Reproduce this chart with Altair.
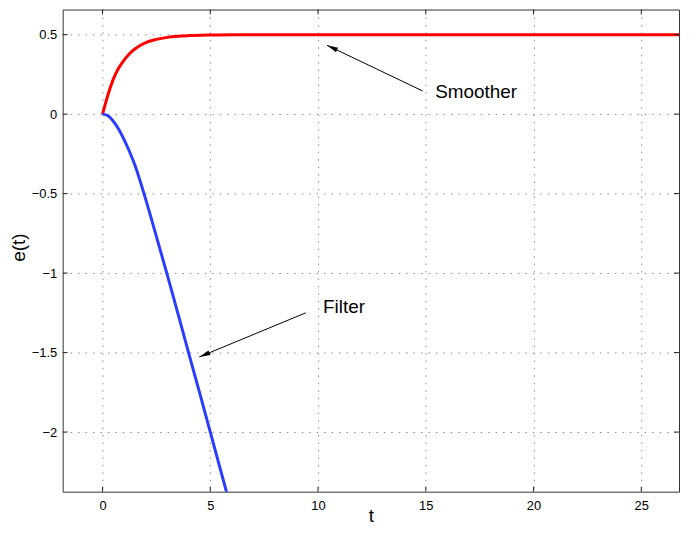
import math
import altair as alt
import pandas as pd

# ---- data ----
t_smoother = [0, 0.25, 0.5, 0.75, 1, 1.25, 1.5, 2, 2.5, 3, 3.5, 4, 5, 6, 8, 12, 27]
e_smoother = [0, 0.12, 0.22, 0.29, 0.34, 0.38, 0.41, 0.45, 0.47, 0.483, 0.49, 0.494, 0.498, 0.5, 0.5, 0.5, 0.5]

t_filter = [0, 0.25, 0.5, 0.75, 1, 1.25, 1.5, 2, 2.5, 3, 3.5, 4, 4.5, 5, 5.5, 6]
e_filter = [0, -0.01, -0.045, -0.095, -0.16, -0.235, -0.32, -0.535, -0.77, -1.01, -1.255, -1.505, -1.75, -2.0, -2.25, -2.5]

x_ticks = [0, 5, 10, 15, 20, 25]
y_ticks = [-2, -1.5, -1, -0.5, 0, 0.5]

ann_labels = ["Smoother", "Filter"]
ann_text_t = [15.44, 10.23]
ann_text_e = [0.10, -1.25]
arrow_t0 = [14.85, 9.43]
arrow_e0 = [0.146, -1.25]
arrow_t1 = [10.42, 4.49]
arrow_e1 = [0.433, -1.5275]

X_DOMAIN = [-1.85, 26.75]
Y_DOMAIN = [-2.375, 0.658]
W, H = 620, 485
FONT = "Liberation Sans"

# ---- tables ----
lines = pd.concat([
    pd.DataFrame({"t": t_smoother, "e": e_smoother, "s": "Smoother"}),
    pd.DataFrame({"t": t_filter, "e": e_filter, "s": "Filter"}),
])

px_x = W / (X_DOMAIN[1] - X_DOMAIN[0])
px_y = H / (Y_DOMAIN[1] - Y_DOMAIN[0])
angles = []
for a, b, c, d in zip(arrow_t0, arrow_e0, arrow_t1, arrow_e1):
    dx = (c - a) * px_x
    dy = -(d - b) * px_y
    angles.append(math.degrees(math.atan2(dx, -dy)) % 360)

arrows = pd.DataFrame({"t": arrow_t0, "e": arrow_e0, "t1": arrow_t1, "e1": arrow_e1, "ang": angles})
heads = pd.DataFrame({"t": arrow_t1, "e": arrow_e1, "ang": angles})
texts = pd.DataFrame({"label": ann_labels, "t": ann_text_t, "e": ann_text_e})
xt = pd.DataFrame({"t": x_ticks})
yt = pd.DataFrame({"e": y_ticks})

xs = alt.Scale(domain=X_DOMAIN, nice=False, zero=False)
ys = alt.Scale(domain=Y_DOMAIN, nice=False, zero=False)

xaxis = alt.Axis(
    values=x_ticks, format="d", title="t", grid=True, ticks=False, domain=False,
    gridDash=[1.5, 6], gridColor="#8a8a8a", gridOpacity=1, gridWidth=1,
    labelFont=FONT, labelFontSize=13, labelColor="#000", labelPadding=8,
    titleFont=FONT, titleFontSize=19, titleFontWeight="normal", titleColor="#000",
    titleX=W / 2, titleY=30, titleBaseline="alphabetic", labelFlush=False)
yaxis = alt.Axis(
    values=y_ticks, format="~g", title="e(t)", grid=True, ticks=False, domain=False,
    gridDash=[1.5, 6], gridColor="#8a8a8a", gridOpacity=1, gridWidth=1,
    labelFont=FONT, labelFontSize=13, labelColor="#000", labelPadding=6,
    titleFont=FONT, titleFontSize=19, titleFontWeight="normal", titleColor="#000",
    titleX=-44.5, titleY=239, titleAngle=-90, titleAlign="center",
    titleBaseline="middle", labelFlush=False)

X = lambda f="t:Q": alt.X(f, scale=xs, axis=xaxis, title="t")
Y = lambda f="e:Q": alt.Y(f, scale=ys, axis=yaxis, title="e(t)")

main = alt.Chart(lines).mark_line(strokeWidth=3, clip=True, interpolate="monotone").encode(
    x=X(), y=Y(),
    color=alt.Color("s:N", scale=alt.Scale(domain=["Smoother", "Filter"],
                                           range=["#ff0000", "#2a3dff"]), legend=None),
    detail="s:N",
)

tick_color = "#222"
xb = alt.Chart(xt).mark_rule(color=tick_color, strokeWidth=1).encode(
    x=X(), y=alt.value(H), y2=alt.value(H - 5))
xtop = alt.Chart(xt).mark_rule(color=tick_color, strokeWidth=1).encode(
    x=X(), y=alt.value(0), y2=alt.value(5))
yl = alt.Chart(yt).mark_rule(color=tick_color, strokeWidth=1).encode(
    y=Y(), x=alt.value(0), x2=alt.value(5))
yr = alt.Chart(yt).mark_rule(color=tick_color, strokeWidth=1).encode(
    y=Y(), x=alt.value(W), x2=alt.value(W - 5))

arrow_lines = alt.Chart(arrows).mark_rule(color="#000", strokeWidth=1).encode(
    x=X(), y=Y(), x2="t1:Q", y2="e1:Q")

arrow_heads = alt.Chart(heads).mark_point(
    shape="M0,0L-0.5,2.2L0.5,2.2Z", filled=True, size=100, color="#000",
    opacity=1, strokeWidth=0).encode(
    x=X(), y=Y(), angle=alt.Angle("ang:Q", scale=None))

labels = alt.Chart(texts).mark_text(
    align="left", baseline="alphabetic", font=FONT, fontSize=19, color="#000").encode(
    x=X(), y=Y(), text="label:N")

chart = alt.layer(main, xb, xtop, yl, yr, arrow_lines, arrow_heads, labels).properties(
    width=W, height=H,
    padding={"left": 55, "top": 0, "right": 2, "bottom": 36},
    autosize=alt.AutoSizeParams(type="none"),
    background="white",
).configure_view(stroke="#333", strokeWidth=1)

chart.save("out.html", embed_options={"renderer": "svg", "actions": False})
